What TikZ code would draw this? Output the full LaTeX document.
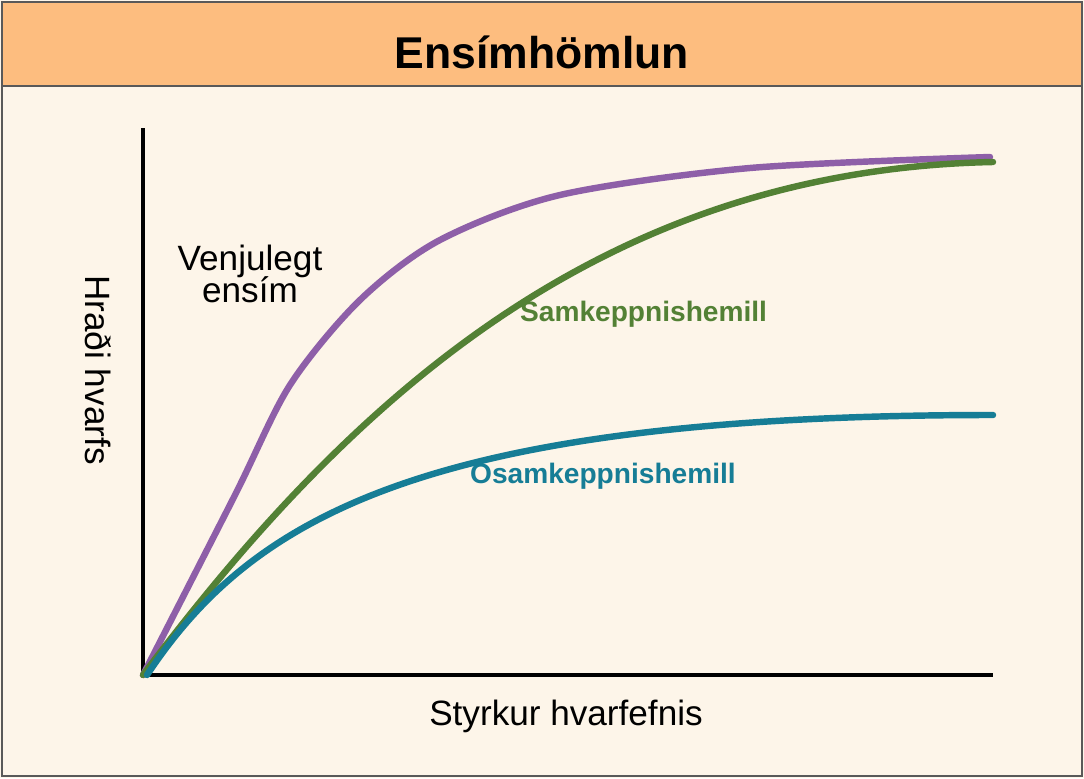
\documentclass[tikz,border=0pt]{standalone}
\usepackage{fontspec}
\setmainfont{Liberation Sans}
\usetikzlibrary{positioning}
\definecolor{bgcream}{HTML}{FDF5E9}
\definecolor{titleorange}{HTML}{FDBD7F}
\definecolor{curvepurple}{HTML}{8E5FA8}
\definecolor{curvegreen}{HTML}{538135}
\definecolor{curveteal}{HTML}{167D96}
\tikzstyle{curve}=[line width=5.5pt,line cap=round]
\tikzstyle{axis}=[draw,line width=3.2pt]
\tikzstyle{curvelabel}=[font=\fontsize{24}{28}\selectfont\bfseries,anchor=west]
\tikzstyle{axislabel}=[font=\fontsize{30}{34}\selectfont]

\begin{document}
\begin{tikzpicture}[x=0.03cm,y=-0.03cm]

%frame
    \useasboundingbox (0,0) rectangle (1084,778);
    \fill[bgcream] (0,0) rectangle (1084,778);
    \fill[titleorange] (2,2) rectangle (1082,86);
    \draw[gray!70!black,line width=1.5pt] (2,2) rectangle (1082,776);
    \draw[gray!70!black,line width=1.5pt] (2,86) -- (1082,86);
    \node[font=\fontsize{38}{44}\selectfont\bfseries] (title) at (542,52) {Ensímhömlun};

%axes
    \coordinate (origin) at (143,675);
    \coordinate (ytop) at (143,128);
    \coordinate (xend) at (993,675);
    \draw[axis] (ytop) -- (origin) -- (xend);
    \node[axislabel,rotate=-90] (ylab) at (98,370) {Hraði hvarfs};
    \node[axislabel] (xlab) at (566,716) {Styrkur hvarfefnis};

%curves
    \draw[curve,curvepurple] plot[smooth] coordinates
        {(143,675) (235,495) (290,385) (360,300) (440,240) (560,195) (750,168) (990,157)};
    \draw[curve,curvegreen] (143,675) .. controls (350,400) and (600,170) .. (993,162);
    \draw[curve,curveteal] (147,675) .. controls (250,520) and (420,415) .. (993,415);

%labels
    \node[axislabel,align=center] (normal) at (250,274) {Venjulegt\\[-6pt]ensím};
    \node[curvelabel,text=curvegreen] (comp) at (516,314) {Samkeppnishemill};
    \node[curvelabel,text=curveteal] (noncomp) at (466,474) {Ósamkeppnishemill};

\end{tikzpicture}
\end{document}
